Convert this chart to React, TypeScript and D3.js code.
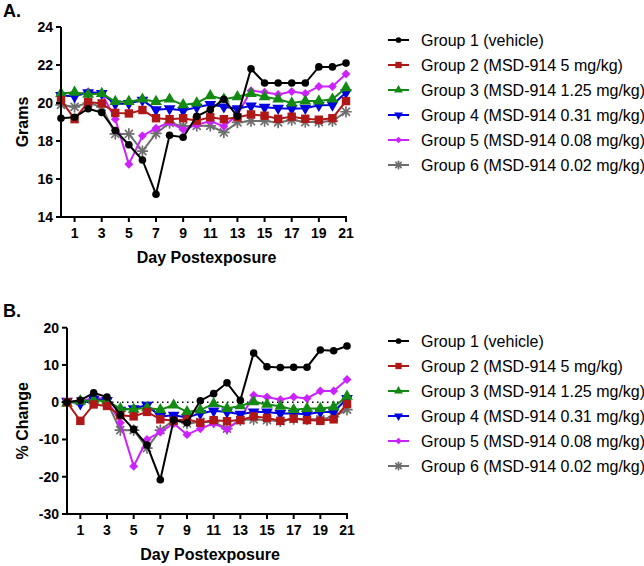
import React from 'react';
import * as d3 from 'd3';

const days = [0, 1, 2, 3, 4, 5, 6, 7, 8, 9, 10, 11, 12, 13, 14, 15, 16, 17, 18, 19, 20, 21];
const dayTicks = [1, 3, 5, 7, 9, 11, 13, 15, 17, 19, 21];
const gramTicks = [14, 16, 18, 20, 22, 24];
const pctTicks = [-30, -20, -10, 0, 10, 20];

const groupNames = [
  "Group 1 (vehicle)",
  "Group 2 (MSD-914 5 mg/kg)",
  "Group 3 (MSD-914 1.25 mg/kg)",
  "Group 4 (MSD-914 0.31 mg/kg)",
  "Group 5 (MSD-914 0.08 mg/kg)",
  "Group 6 (MSD-914 0.02 mg/kg)",
];

// body weight (grams)
const gramsG1 = [19.2, 19.25, 19.7, 19.5, 18.55, 17.8, 17.0, 15.2, 18.3, 18.2, 19.3, 19.65, 20.2, 19.3, 21.8, 21.05, 21.05, 21.05, 21.05, 21.9, 21.9, 22.1];
const gramsG2 = [20.15, 19.15, 20.05, 19.98, 19.48, 19.45, 19.63, 19.2, 19.15, 19.2, 19.07, 19.25, 19.15, 19.25, 19.4, 19.33, 19.17, 19.28, 19.17, 19.12, 19.2, 20.1];
const gramsG3 = [20.5, 20.56, 20.45, 20.5, 20.07, 20.07, 20.2, 20.07, 20.2, 19.9, 20.0, 20.38, 20.2, 20.33, 20.5, 20.33, 20.2, 20.0, 20.1, 20.1, 20.2, 20.8];
const gramsG4 = [20.4, 20.35, 20.55, 20.5, 19.95, 19.98, 20.15, 19.65, 19.7, 19.6, 19.78, 19.92, 19.8, 19.7, 19.85, 19.78, 19.73, 19.7, 19.73, 19.88, 19.9, 20.55];
const gramsG5 = [20.35, 20.4, 20.6, 20.5, 19.15, 16.78, 18.27, 18.67, 18.98, 18.6, 18.85, 19.05, 18.77, 19.38, 20.65, 20.57, 20.45, 20.6, 20.5, 20.87, 20.87, 21.53];
const gramsG6 = [19.9, 19.8, 20.0, 19.8, 18.37, 18.37, 17.47, 18.4, 18.95, 18.78, 18.8, 18.8, 18.45, 18.98, 19.05, 19.05, 18.98, 19.1, 19.0, 19.0, 19.05, 19.54];

// % change from day 0
const pctG1 = [0, 0.5, 2.5, 1.4, -3.4, -7.3, -11.5, -20.8, -4.8, -5.5, 0.4, 2.3, 5.2, 0.5, 13.2, 9.5, 9.3, 9.4, 9.4, 14.0, 13.8, 15.1];
const pctG2 = [0, -5.0, -0.6, -1.0, -3.5, -3.8, -2.6, -4.6, -5.0, -4.6, -5.5, -4.8, -5.1, -4.8, -3.8, -4.2, -5.0, -4.4, -4.8, -5.0, -4.6, -0.5];
const pctG3 = [-0.3, 0.3, 0.5, 0.3, -1.7, -1.9, -1.5, -2.0, -0.8, -2.6, -2.1, -0.4, -1.7, -1.0, 0.1, -0.6, -1.1, -2.0, -1.7, -1.7, -1.3, 1.6];
const pctG4 = [0.3, -0.4, 0.8, 0.5, -2.1, -1.7, -0.8, -3.8, -3.5, -4.1, -3.0, -2.3, -2.6, -3.2, -2.6, -2.6, -3.0, -3.0, -3.2, -2.6, -2.6, 1.0];
const pctG5 = [0, 0.1, 1.3, 0.7, -5.5, -17.2, -10.0, -8.0, -5.7, -8.7, -7.1, -5.7, -7.3, -4.5, 1.9, 1.4, 0.7, 1.4, 1.0, 3.0, 3.0, 6.1];
const pctG6 = [0, 0.3, 0.7, 0.1, -7.5, -7.5, -12.3, -7.5, -4.8, -5.7, -5.3, -5.3, -7.1, -4.8, -4.6, -4.8, -5.1, -4.5, -4.6, -4.6, -3.9, -2.0];

const colors = ["#000000", "#b01818", "#138a13", "#0000e0", "#cc22ff", "#6e6e6e"];
const FONT = "'Liberation Sans', Arial, sans-serif";

function Marker({ i, x, y, s = 1 }) {
  const c = colors[i];
  if (i === 0) return <circle cx={x} cy={y} r={3.8 * s} fill={c} />;
  if (i === 1) {
    const h = 4.2 * s;
    return <rect x={x - h} y={y - h} width={h * 2} height={h * 2} fill={c} />;
  }
  if (i === 2 || i === 3) {
    const p = d3.symbol().type(d3.symbolTriangle).size(60 * s * s)();
    return <path d={p} fill={c} transform={`translate(${x},${y})${i === 3 ? " rotate(180)" : ""}`} />;
  }
  if (i === 4) {
    const p = d3.symbol().type(d3.symbolSquare).size(40 * s * s)();
    return <path d={p} fill={c} transform={`translate(${x},${y}) rotate(45)`} />;
  }
  // asterisk: two rotated 3-arm crosses give 8 spokes
  const r = 5 * s;
  const spokes = [0, 45, 90, 135];
  return (
    <g transform={`translate(${x},${y})`} stroke={c} strokeWidth={1.7} strokeLinecap="round">
      {spokes.map(a => (
        <line key={a} x1={-r} x2={r} y1={0} y2={0} transform={`rotate(${a})`} />
      ))}
    </g>
  );
}

function Panel({ series, yDomain, yTicks, xRange, yRange, yLabel, title, titleY, legendTop, zeroLine }) {
  const x = d3.scaleLinear().domain([0, 21]).range(xRange);
  const y = d3.scaleLinear().domain(yDomain).range(yRange);
  const line = d3.line().x((d, i) => x(days[i])).y(d => y(d));
  const left = xRange[0];
  const bottom = yRange[0];

  return (
    <g fontFamily={FONT}>
      <text x={3} y={titleY} fontSize={18} fontWeight="bold">{title}</text>

      {zeroLine && (
        <line x1={x(0)} x2={x(21)} y1={y(0)} y2={y(0)} stroke="#000" strokeWidth={1.6} strokeDasharray="1.5 3.5" />
      )}

      {/* series, group 6 first so group 1 ends on top */}
      {series.map((vals, i) => i).reverse().map(i => (
        <g key={i}>
          <path d={line(series[i])} fill="none" stroke={colors[i]} strokeWidth={2} />
          {series[i].map((v, j) => <Marker key={j} i={i} x={x(days[j])} y={y(v)} />)}
        </g>
      ))}

      {/* y axis */}
      <line x1={left} x2={left} y1={yRange[0]} y2={yRange[1]} stroke="#000" strokeWidth={2} />
      {yTicks.map(t => (
        <g key={t}>
          <line x1={left - 5} x2={left} y1={y(t)} y2={y(t)} stroke="#000" strokeWidth={2} />
          <text x={left - 8} y={y(t)} dy="0.35em" textAnchor="end" fontSize={14} fontWeight="bold">{t}</text>
        </g>
      ))}

      {/* x axis */}
      <line x1={left} x2={xRange[1] + 1} y1={bottom} y2={bottom} stroke="#000" strokeWidth={2} />
      {dayTicks.map(t => (
        <g key={t}>
          <line x1={x(t)} x2={x(t)} y1={bottom} y2={bottom + 5} stroke="#000" strokeWidth={2} />
          <text x={x(t)} y={bottom + 21} textAnchor="middle" fontSize={14} fontWeight="bold">{t}</text>
        </g>
      ))}
      <text x={(xRange[0] + xRange[1]) / 2 + 3} y={bottom + 46} textAnchor="middle" fontSize={16} fontWeight="bold">Day Postexposure</text>
      <text transform={`translate(28,${(yRange[0] + yRange[1]) / 2}) rotate(-90)`} textAnchor="middle" fontSize={16} fontWeight="bold">{yLabel}</text>

      {/* legend */}
      {groupNames.map((name, i) => {
        const ly = legendTop + i * 25;
        return (
          <g key={name}>
            <line x1={388} x2={409} y1={ly} y2={ly} stroke={colors[i]} strokeWidth={2} />
            <Marker i={i} x={398.5} y={ly} s={0.75} />
            <text x={421} y={ly} dy="0.35em" fontSize={16}>{name}</text>
          </g>
        );
      })}
    </g>
  );
}

export default function App() {
  const grams = [gramsG1, gramsG2, gramsG3, gramsG4, gramsG5, gramsG6];
  const pct = [pctG1, pctG2, pctG3, pctG4, pctG5, pctG6];
  return (
    <svg width={644} height={566} style={{ position: "absolute", left: 0, top: 0, background: "#fff" }}>
      <Panel
        series={grams}
        yDomain={[14, 24]}
        yTicks={gramTicks}
        xRange={[61, 346]}
        yRange={[217, 27]}
        yLabel="Grams"
        title="A."
        titleY={17}
        legendTop={40}
      />
      <Panel
        series={pct}
        yDomain={[-30, 20]}
        yTicks={pctTicks}
        xRange={[67, 347]}
        yRange={[514, 327.7]}
        yLabel="% Change"
        title="B."
        titleY={317}
        legendTop={341}
        zeroLine
      />
    </svg>
  );
}
